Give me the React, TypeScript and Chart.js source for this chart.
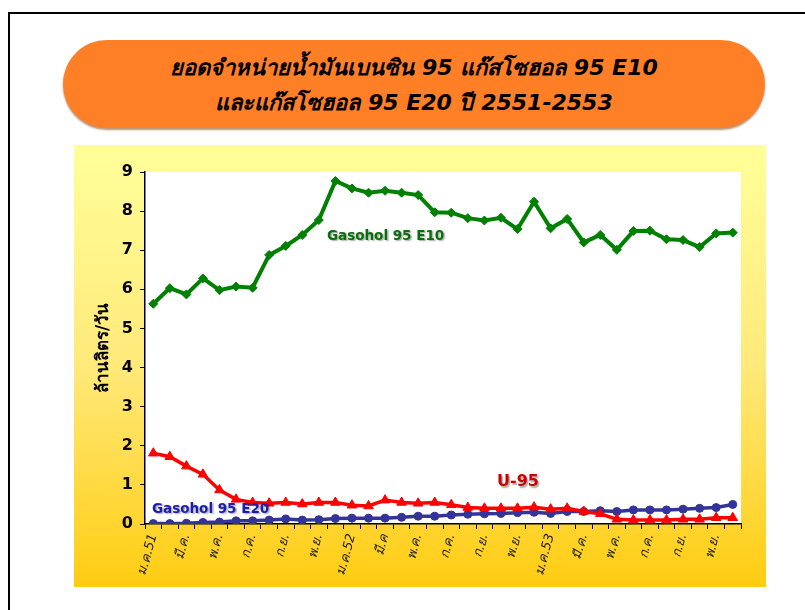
import React, { useEffect, useRef } from "react";
import { Chart, registerables } from "chart.js";

Chart.register(...registerables);

const monthLabels = [
  "ม.ค.51", "", "มี.ค.", "", "พ.ค.", "", "ก.ค.", "", "ก.ย.", "", "พ.ย.", "",
  "ม.ค.52", "", "มี.ค", "", "พ.ค.", "", "ก.ค.", "", "ก.ย.", "", "พ.ย.", "",
  "ม.ค.53", "", "มี.ค.", "", "พ.ค.", "", "ก.ค.", "", "ก.ย.", "", "พ.ย.", "",
];

const e10Values = [
  5.63, 6.03, 5.87, 6.28, 5.98, 6.07, 6.04, 6.88, 7.11, 7.39, 7.77, 8.77,
  8.58, 8.47, 8.52, 8.47, 8.41, 7.97, 7.96, 7.82, 7.76, 7.83, 7.54, 8.24,
  7.56, 7.8, 7.2, 7.39, 7.01, 7.49, 7.5, 7.28, 7.26, 7.08, 7.43, 7.45,
];

const u95Values = [
  1.81, 1.72, 1.48, 1.27, 0.87, 0.63, 0.55, 0.53, 0.55, 0.51, 0.55, 0.55,
  0.48, 0.46, 0.61, 0.55, 0.53, 0.55, 0.49, 0.42, 0.4, 0.4, 0.4, 0.43,
  0.38, 0.4, 0.32, 0.26, 0.12, 0.1, 0.1, 0.1, 0.12, 0.12, 0.16, 0.16,
];

const e20Values = [
  0.01, 0.01, 0.02, 0.04, 0.05, 0.08, 0.08, 0.1, 0.13, 0.1, 0.11, 0.14,
  0.15, 0.15, 0.15, 0.17, 0.2, 0.2, 0.23, 0.25, 0.26, 0.27, 0.29, 0.3,
  0.27, 0.32, 0.32, 0.34, 0.32, 0.36, 0.36, 0.36, 0.38, 0.4, 0.42, 0.5,
];

const yTitle = "ล้านลิตร/วัน";
const titleLine1 = "ยอดจำหน่ายน้ำมันเบนซิน 95 แก๊สโซฮอล 95 E10";
const titleLine2 = "และแก๊สโซฮอล 95 E20  ปี 2551-2553";

const THAI_FONT = "Tahoma, 'DejaVu Sans', 'Noto Sans', sans-serif";
const LATIN_FONT = "Verdana, 'DejaVu Sans', sans-serif";

const decorPlugin = {
  id: "decor",
  beforeDraw(chart: any) {
    const { ctx, width, height, chartArea } = chart;
    ctx.save();
    const g = ctx.createLinearGradient(0, 0, 0, height);
    g.addColorStop(0, "#ffff99");
    g.addColorStop(0.5, "#ffe97a");
    g.addColorStop(1, "#ffcc11");
    ctx.fillStyle = g;
    ctx.fillRect(0, 0, width, height);
    ctx.fillStyle = "#ffffff";
    ctx.fillRect(chartArea.left, chartArea.top, chartArea.right - chartArea.left, chartArea.bottom - chartArea.top);
    ctx.restore();
  },
  afterDraw(chart: any) {
    const { ctx, chartArea } = chart;
    ctx.save();
    ctx.translate(30, (chartArea.top + chartArea.bottom) / 2);
    ctx.rotate(-Math.PI / 2);
    ctx.fillStyle = "#000";
    ctx.font = `bold 17px ${THAI_FONT}`;
    ctx.textAlign = "center";
    ctx.textBaseline = "middle";
    ctx.fillText(yTitle, 0, 0);
    ctx.restore();

    const drawLabel = (text: string, x: number, y: number, color: string, size: number) => {
      ctx.save();
      ctx.font = `bold ${size}px ${LATIN_FONT}`;
      ctx.textBaseline = "middle";
      ctx.textAlign = "left";
      ctx.shadowColor = "rgba(0,0,0,0.35)";
      ctx.shadowOffsetX = 1.5;
      ctx.shadowOffsetY = 1.5;
      ctx.shadowBlur = 1.5;
      ctx.fillStyle = color;
      ctx.fillText(text, x, y);
      ctx.restore();
    };
    drawLabel("Gasohol 95 E10", chartArea.left + 182, chartArea.top + 64, "#0a6e0a", 13.5);
    drawLabel("U-95", chartArea.left + 352, chartArea.top + 310, "#cc0000", 16);
    drawLabel("Gasohol 95 E20", chartArea.left + 7, chartArea.top + 337, "#1c1cb0", 13.5);
  },
};

function ChartCanvas() {
  const ref = useRef<HTMLCanvasElement | null>(null);
  useEffect(() => {
    if (!ref.current) return;
    const chart = new Chart(ref.current, {
      type: "line",
      data: {
        labels: monthLabels,
        datasets: [
          {
            label: "Gasohol 95 E10",
            data: e10Values,
            borderColor: "#008000",
            backgroundColor: "#008000",
            borderWidth: 4,
            pointStyle: "rectRot",
            pointRadius: 4.5,
            pointBorderWidth: 1,
            tension: 0,
          },
          {
            label: "U-95",
            data: u95Values,
            borderColor: "#ff0000",
            backgroundColor: "#ff0000",
            borderWidth: 3.5,
            pointStyle: "triangle",
            pointRadius: 5.5,
            pointBorderWidth: 1,
            tension: 0,
          },
          {
            label: "Gasohol 95 E20",
            data: e20Values,
            borderColor: "#333399",
            backgroundColor: "#333399",
            borderWidth: 3.5,
            pointStyle: "circle",
            pointRadius: 4,
            pointBorderWidth: 1,
            tension: 0,
          },
        ],
      },
      options: {
        animation: false,
        responsive: false,
        maintainAspectRatio: false,
        layout: { padding: { top: 27, right: 25, left: 0, bottom: 0 } },
        plugins: {
          legend: { display: false },
          tooltip: { enabled: false },
        },
        scales: {
          x: {
            offset: true,
            grid: {
              display: true,
              offset: true,
              drawOnChartArea: false,
              drawTicks: true,
              tickLength: 5,
              color: "#000",
            },
            border: { color: "#000", width: 1.5 },
            ticks: {
              autoSkip: false,
              minRotation: 75,
              maxRotation: 75,
              padding: 3,
              color: "#222",
              font: { size: 13, family: THAI_FONT, style: "italic" },
            },
            afterFit(scale: any) {
              scale.height = 63;
            },
          },
          y: {
            min: 0,
            max: 9,
            ticks: {
              stepSize: 1,
              padding: 7,
              color: "#000",
              font: { size: 16, weight: "bold", family: LATIN_FONT },
            },
            grid: {
              display: true,
              drawOnChartArea: false,
              drawTicks: true,
              tickLength: 5,
              color: "#000",
            },
            border: { color: "#000", width: 1.5 },
            afterFit(scale: any) {
              scale.width = 71;
            },
          },
        },
      },
      plugins: [decorPlugin],
    } as any);
    return () => chart.destroy();
  }, []);
  return <canvas ref={ref} width={692} height={442} style={{ display: "block", width: 692, height: 442 }} />;
}

export default function App() {
  return (
    <div
      style={{
        position: "fixed",
        left: 0,
        top: 0,
        width: 805,
        height: 610,
        overflow: "hidden",
        background: "#fff",
      }}
    >
      <div
        style={{
          position: "absolute",
          left: 8,
          top: 12,
          width: 900,
          height: 700,
          borderLeft: "2px solid #000",
          borderTop: "2px solid #000",
        }}
      />
      <div
        style={{
          position: "absolute",
          left: 63,
          top: 40,
          width: 702,
          height: 88,
          borderRadius: 44,
          background: "#ff7f27",
          boxShadow: "0 2px 2px rgba(120,60,0,0.55)",
          textAlign: "center",
          fontFamily: THAI_FONT,
          fontWeight: "bold",
          fontStyle: "italic",
          fontSize: 22,
          lineHeight: "35px",
          paddingTop: 10,
          boxSizing: "border-box",
          color: "#000",
        }}
      >
        <div>{titleLine1}</div>
        <div>{titleLine2}</div>
      </div>
      <div style={{ position: "absolute", left: 74, top: 145, width: 692, height: 442 }}>
        <ChartCanvas />
      </div>
    </div>
  );
}
